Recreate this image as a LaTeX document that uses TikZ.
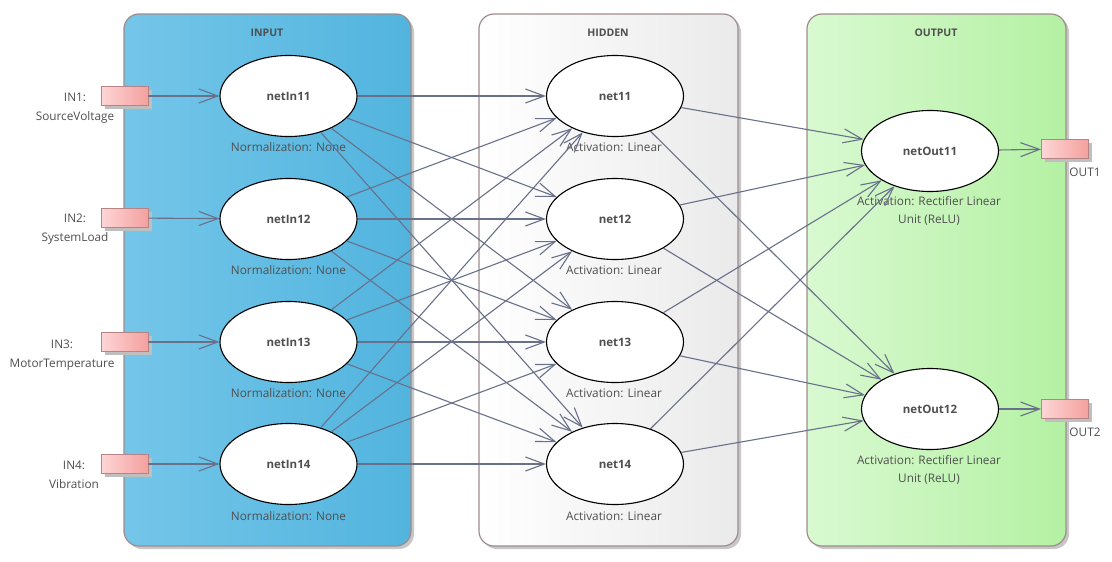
\documentclass[tikz,border=0pt]{standalone}
\usepackage{fontspec}
\setmainfont{Open Sans}
\usetikzlibrary{shapes.geometric,arrows.meta}

\definecolor{wirec}{HTML}{69708A}
\definecolor{txt}{HTML}{4F4F4F}
\definecolor{frame}{HTML}{9E8C8C}
\definecolor{inL}{HTML}{74C6E9}
\definecolor{inR}{HTML}{52B4DE}
\definecolor{hidL}{HTML}{FFFFFF}
\definecolor{hidR}{HTML}{EAEAEA}
\definecolor{outL}{HTML}{D9F9D1}
\definecolor{outR}{HTML}{B4F1A3}
\definecolor{portL}{HTML}{FDD6D6}
\definecolor{portR}{HTML}{F4A09E}
\definecolor{portE}{HTML}{B58585}

\begin{document}
\begin{tikzpicture}[x=1pt,y=-1pt,
  neuron/.style={ellipse, draw=black, line width=1.1pt, fill=white,
    minimum width=137pt, minimum height=81pt, inner sep=0pt,
    font=\bfseries\fontsize{11.5}{13}\selectfont, text=txt},
  note/.style={font=\fontsize{11.8}{18.5}\selectfont, text=txt, align=center, inner sep=0pt},
  title/.style={font=\bfseries\fontsize{10.5}{12}\selectfont, text=txt, inner sep=0pt},
  port/.style={rectangle, draw=portE, line width=0.8pt, left color=portL, right color=portR,
    minimum width=47pt, minimum height=19pt, inner sep=0pt},
  wire/.style={draw=wirec, line width=1.1pt, -{Straight Barb[length=19pt,width=14pt]}},
  shadowbox/.style={fill=black!22, rounded corners=15pt},
  layerbox/.style={draw=frame, line width=1.2pt, rounded corners=15pt}]

\useasboundingbox (0,0) rectangle (1112,562);

% layer containers with drop shadows
\fill[shadowbox] (127,17) rectangle (414,549);
\fill[shadowbox] (482,17) rectangle (741,549);
\fill[shadowbox] (810,17) rectangle (1069,549);
\shade[layerbox, left color=inL, right color=inR] (124,14) rectangle (411,546);
\shade[layerbox, left color=hidL, right color=hidR] (479,14) rectangle (738,546);
\shade[layerbox, left color=outL, right color=outR] (807,14) rectangle (1066,546);

\node[title] (tIn) at (267,33) {INPUT};
\node[title] (tHid) at (608,33) {HIDDEN};
\node[title] (tOut) at (936,33) {OUTPUT};

% input ports
\foreach \k/\y in {1/96,2/218,3/342,4/464}{
  \fill[black!25] (104.5,\y-6.5) rectangle (151.5,\y+12.5);
  \node[port] (p\k) at (124.5,\y) {};
}
% output ports
\foreach \k/\y in {1/149,2/409}{
  \fill[black!25] (1045,\y-6.5) rectangle (1092,\y+12.5);
  \node[port] (q\k) at (1065,\y) {};
}

\node[note] (lp1) at (75,108) {IN1:\\SourceVoltage};
\node[note] (lp2) at (75,229) {IN2:\\SystemLoad};
\node[note] (lp3) at (62,355) {IN3:\\MotorTemperature};
\node[note] (lp4) at (74,475) {IN4:\\Vibration};
\node[note] (lq1) at (1085,172) {OUT1};
\node[note] (lq2) at (1085,432) {OUT2};

% neurons
\node[neuron] (in1) at (288.5,96) {netIn11};
\node[neuron] (in2) at (288.5,219) {netIn12};
\node[neuron] (in3) at (288.5,342) {netIn13};
\node[neuron] (in4) at (288.5,464) {netIn14};
\node[neuron] (h1) at (615,96) {net11};
\node[neuron] (h2) at (615,219) {net12};
\node[neuron] (h3) at (615,342) {net13};
\node[neuron] (h4) at (615,464) {net14};
\node[neuron] (o1) at (930,151) {netOut11};
\node[neuron] (o2) at (930,409) {netOut12};

% captions under the neurons
\foreach \k/\y in {1/147,2/270,3/393,4/516}{
  \node[note] (ni\k) at (288.5,\y) {Normalization: None};
  \node[note] (nh\k) at (614,\y) {Activation: Linear};
}
\node[note] (no1) at (929,211) {Activation: Rectifier Linear\\Unit (ReLU)};
\node[note] (no2) at (929,470) {Activation: Rectifier Linear\\Unit (ReLU)};

% connections
\foreach \k in {1,...,4}{
  \draw[wire] (p\k) -- (in\k);
}
\foreach \i in {1,...,4}{
  \foreach \j in {1,...,4}{
    \draw[wire] (in\i) -- (h\j);
  }
}
\foreach \j in {1,...,4}{
  \draw[wire] (h\j) -- (o1);
  \draw[wire] (h\j) -- (o2);
}
\draw[wire] (o1) -- (q1);
\draw[wire] (o2) -- (q2);

\end{tikzpicture}
\end{document}
